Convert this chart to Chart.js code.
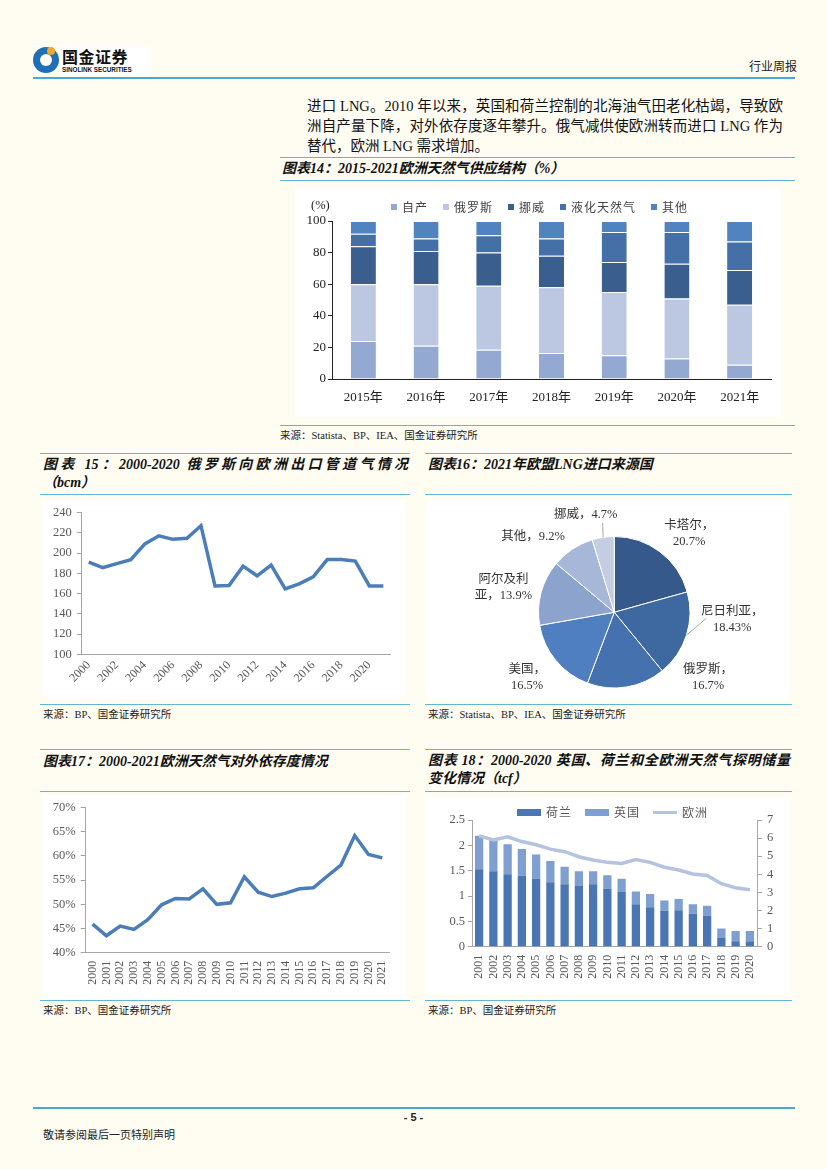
<!DOCTYPE html>
<html lang="zh-CN">
<head>
<meta charset="utf-8">
<title>行业周报 - 5</title>
<script src="https://cdn.jsdelivr.net/npm/chart.js@4.4.1/dist/chart.umd.min.js"></script>
<style>
  html, body { margin: 0; padding: 0; }
  body {
    width: 827px; height: 1169px; position: relative; overflow: hidden;
    background: #fffcf2; color: #222;
    font-family: 'Liberation Serif', 'Noto Sans CJK SC', serif;
  }
  .rule { position: absolute; height: 0; border-top: 1.5px solid #62b5d9; }
  .rule.thick { border-top: 2.5px solid #4aa8d4; }
  .title { position: absolute; font-weight: bold; font-style: italic; font-size: 14px; line-height: 17px; color: #111; white-space: nowrap; }
  .title.just { text-align: justify; text-align-last: justify; white-space: normal; }
  .src { position: absolute; font-size: 10.5px; line-height: 12px; color: #222; white-space: nowrap; }
  .box { position: absolute; background: #fff; }
  .box canvas { display: block; }
  .para { position: absolute; left: 307px; width: 476px; font-size: 14.5px; line-height: 20px; color: #111; white-space: nowrap; }
  .para.just { text-align: justify; text-align-last: justify; white-space: normal; }
  .legend { position: absolute; display: flex; align-items: center; font-size: 12px; letter-spacing: 1px; color: #444; white-space: nowrap; }
  .legend .item { display: flex; align-items: center; }
  .legend .sw { display: inline-block; margin-right: 5px; }
</style>
</head>
<body>

<!-- 页眉 -->
<div style="position:absolute;left:33px;top:47px;width:26px;height:26px;border-radius:50%;background:#1f6fb6;"></div>
<div style="position:absolute;left:40px;top:54px;width:12px;height:12px;border-radius:50%;background:#fffcf2;"></div>
<div style="position:absolute;left:47px;top:47px;width:8px;height:8px;border-radius:50%;background:#f0a830;"></div>
<div style="position:absolute;left:59px;top:46px;width:92px;height:30px;background:#fff;"></div>
<div style="position:absolute;left:62px;top:46px;font-family:'Noto Sans CJK SC';font-weight:bold;font-size:16px;line-height:20px;color:#111;letter-spacing:0.5px;">国金证券</div>
<div style="position:absolute;left:62px;top:66px;font-family:'Liberation Sans';font-weight:bold;font-size:6.3px;line-height:7px;color:#111;">SINOLINK SECURITIES</div>
<div style="position:absolute;left:749px;top:60px;font-size:12px;line-height:14px;color:#222;">行业周报</div>
<div class="rule thick" style="left:33px;top:77px;width:762px;"></div>

<!-- 正文 -->
<div class="para just" style="top:96px;">进口 LNG。2010 年以来，英国和荷兰控制的北海油气田老化枯竭，导致欧</div>
<div class="para just" style="top:116px;">洲自产量下降，对外依存度逐年攀升。俄气减供使欧洲转而进口 LNG 作为</div>
<div class="para" style="top:136px;">替代，欧洲 LNG 需求增加。</div>

<!-- 图表14 -->
<div class="rule" style="left:280px;top:157px;width:515px;"></div>
<div class="title" style="left:282px;top:160px;">图表14：2015-2021欧洲天然气供应结构（%）</div>
<div class="rule" style="left:280px;top:180px;width:515px;"></div>
<div class="box" style="left:295px;top:188px;width:485px;height:229px;"><canvas id="c14"></canvas></div>
<div style="position:absolute;left:311px;top:198px;font-size:12.5px;line-height:14px;color:#222;">(%)</div>
<div class="legend" id="lg14" style="left:391px;top:200px;height:14px;gap:15px;"></div>
<div class="rule" style="left:280px;top:425px;width:515px;"></div>
<div class="src" style="left:280px;top:430px;">来源：Statista、BP、IEA、国金证券研究所</div>

<!-- 图表15 -->
<div class="rule" style="left:40px;top:453px;width:370px;"></div>
<div class="title just" style="left:43px;top:456px;width:365px;">图表 15：2000-2020 俄罗斯向欧洲出口管道气情况</div>
<div class="title" style="left:43px;top:474px;">（bcm）</div>
<div class="rule" style="left:40px;top:494px;width:370px;"></div>
<div class="box" style="left:43px;top:500px;width:362px;height:198px;"><canvas id="c15"></canvas></div>
<div class="rule" style="left:40px;top:704px;width:370px;"></div>
<div class="src" style="left:43px;top:709px;">来源：BP、国金证券研究所</div>

<!-- 图表16 -->
<div class="rule" style="left:425px;top:453px;width:367px;"></div>
<div class="title" style="left:428px;top:456px;">图表16：2021年欧盟LNG进口来源国</div>
<div class="rule" style="left:425px;top:494px;width:367px;"></div>
<div class="box" style="left:428px;top:500px;width:362px;height:200px;"><canvas id="c16"></canvas></div>
<div class="rule" style="left:425px;top:704px;width:367px;"></div>
<div class="src" style="left:428px;top:709px;">来源：Statista、BP、IEA、国金证券研究所</div>

<!-- 图表17 -->
<div class="rule" style="left:40px;top:749px;width:370px;"></div>
<div class="title" style="left:43px;top:753px;">图表17：2000-2021欧洲天然气对外依存度情况</div>
<div class="rule" style="left:40px;top:791px;width:370px;"></div>
<div class="box" style="left:43px;top:795px;width:362px;height:203px;"><canvas id="c17"></canvas></div>
<div class="rule" style="left:40px;top:1000px;width:370px;"></div>
<div class="src" style="left:43px;top:1005px;">来源：BP、国金证券研究所</div>

<!-- 图表18 -->
<div class="rule" style="left:425px;top:749px;width:367px;"></div>
<div class="title just" style="left:428px;top:752px;width:362px;">图表 18：2000-2020 英国、荷兰和全欧洲天然气探明储量</div>
<div class="title" style="left:428px;top:770px;">变化情况（tcf）</div>
<div class="rule" style="left:425px;top:791px;width:367px;"></div>
<div class="box" style="left:425px;top:797px;width:365px;height:198px;"><canvas id="c18"></canvas></div>
<div class="legend" id="lg18" style="left:517px;top:805px;height:14px;gap:13px;color:#595959;"></div>
<div class="rule" style="left:425px;top:1000px;width:367px;"></div>
<div class="src" style="left:428px;top:1005px;">来源：BP、国金证券研究所</div>

<!-- 页脚 -->
<div class="rule thick" style="left:33px;top:1107px;width:762px;"></div>
<div style="position:absolute;left:0;width:827px;top:1111px;text-align:center;font-family:'Liberation Sans';font-weight:bold;font-size:11px;line-height:13px;">- 5 -</div>
<div style="position:absolute;left:43px;top:1128px;font-size:11px;line-height:14px;color:#222;">敬请参阅最后一页特别声明</div>

<script>
Chart.defaults.font.family = "'Liberation Serif', 'Noto Sans CJK SC', serif";
Chart.defaults.animation = false;
Chart.defaults.responsive = true;
Chart.defaults.maintainAspectRatio = false;
Chart.defaults.plugins.legend.display = false;
Chart.defaults.plugins.tooltip.enabled = false;

// 图表14：欧洲天然气供应结构（%）
const years14 = ['2015年', '2016年', '2017年', '2018年', '2019年', '2020年', '2021年'];
const ownProduction = [24, 21, 18.5, 16.5, 15, 13, 9];
const fromRussia = [36, 39, 40.5, 41.5, 40, 38, 38];
const fromNorway = [24, 21, 21, 20, 19, 22, 22];
const fromLng = [8, 8, 11, 11, 19, 20, 18];
const fromOthers = [8, 11, 9, 11, 7, 7, 13];

// 图表15：俄罗斯向欧洲出口管道气（bcm）
const years15 = ['2000', '2001', '2002', '2003', '2004', '2005', '2006', '2007', '2008', '2009', '2010',
  '2011', '2012', '2013', '2014', '2015', '2016', '2017', '2018', '2019', '2020', '2021'];
const pipelineExports = [191, 185.5, 189.5, 193.5, 209, 217, 213.5, 214.5, 227, 167.5, 168,
  187, 177.5, 188, 164.5, 169.5, 176.5, 193.5, 193.5, 192, 167.5, 167.5];

// 图表16：2021年欧盟LNG进口来源国（%）
const lngSources = ['卡塔尔', '尼日利亚', '俄罗斯', '美国', '阿尔及利亚', '其他', '挪威'];
const lngShares = [20.7, 18.43, 16.7, 16.5, 13.9, 9.2, 4.7];

// 图表17：欧洲天然气对外依存度（%）
const years17 = years15;
const importDependence = [45.9, 43.5, 45.5, 44.8, 46.8, 49.9, 51.2, 51.1, 53.2, 50, 50.3,
  55.7, 52.5, 51.6, 52.3, 53.2, 53.4, 55.8, 58.1, 64.2, 60.3, 59.6];

// 图表18：探明储量（tcf）
const years18 = ['2001', '2002', '2003', '2004', '2005', '2006', '2007', '2008', '2009', '2010',
  '2011', '2012', '2013', '2014', '2015', '2016', '2017', '2018', '2019', '2020'];
const reservesNL = [1.53, 1.49, 1.43, 1.40, 1.34, 1.27, 1.23, 1.20, 1.23, 1.15,
  1.08, 0.84, 0.78, 0.71, 0.72, 0.65, 0.61, 0.17, 0.11, 0.11];
const reservesUK = [0.66, 0.63, 0.59, 0.53, 0.48, 0.42, 0.35, 0.29, 0.26, 0.26,
  0.26, 0.25, 0.26, 0.20, 0.22, 0.19, 0.20, 0.19, 0.20, 0.20];
const reservesEurope = [6.12, 5.9, 6.07, 5.81, 5.63, 5.39, 5.25, 4.97, 4.79, 4.66,
  4.6, 4.81, 4.66, 4.39, 4.24, 4.02, 3.93, 3.48, 3.26, 3.15];

const grey = '#595959';
const axisGrey = '#a6a6a6';

function fixWidth(w) { return s => { s.width = w; }; }
function fixHeight(h) { return s => { s.height = h; }; }

function htmlLegend(el, items) {
  items.forEach(it => {
    const d = document.createElement('span');
    d.className = 'item';
    const sw = document.createElement('span');
    sw.className = 'sw';
    sw.style.width = it.w + 'px';
    sw.style.height = it.h + 'px';
    sw.style.background = it.color;
    d.appendChild(sw);
    d.appendChild(document.createTextNode(it.label));
    el.appendChild(d);
  });
}

// ---- 图表14
const ds14 = [
  { label: '自产', data: ownProduction, backgroundColor: '#93a9d2' },
  { label: '俄罗斯', data: fromRussia, backgroundColor: '#bcc8e2' },
  { label: '挪威', data: fromNorway, backgroundColor: '#3a5e8e' },
  { label: '液化天然气', data: fromLng, backgroundColor: '#4570a7' },
  { label: '其他', data: fromOthers, backgroundColor: '#5083c0' }
];
ds14.forEach(d => {
  d.borderColor = '#ffffff';
  d.borderWidth = { top: 1, left: 0, right: 0, bottom: 0 };
  d.borderSkipped = false;
  d.barPercentage = 0.4;
  d.categoryPercentage = 1;
});
new Chart(document.getElementById('c14'), {
  type: 'bar',
  data: { labels: years14, datasets: ds14 },
  options: {
    layout: { padding: { top: 33, right: 9, left: 0, bottom: 0 } },
    scales: {
      x: {
        stacked: true,
        grid: { display: false, drawTicks: false },
        border: { display: true, color: '#222', width: 1 },
        ticks: { color: '#222', font: { size: 13 }, padding: 11, maxRotation: 0 },
        afterFit: fixHeight(38)
      },
      y: {
        stacked: true, min: 0, max: 100,
        grid: { drawOnChartArea: false, tickLength: 4, color: '#222' },
        border: { color: '#222', width: 1 },
        ticks: { stepSize: 20, color: '#222', font: { size: 13 }, padding: 2 },
        afterFit: fixWidth(37)
      }
    }
  }
});
htmlLegend(document.getElementById('lg14'),
  ds14.map(d => ({ label: d.label, color: d.backgroundColor, w: 6, h: 6 })));

// ---- 图表15
new Chart(document.getElementById('c15'), {
  type: 'line',
  data: {
    labels: years15,
    datasets: [{ data: pipelineExports, borderColor: '#4a7dba', borderWidth: 3.5, pointRadius: 0, tension: 0 }]
  },
  options: {
    layout: { padding: { top: 11, right: 14.6, left: 0, bottom: 0 } },
    scales: {
      x: {
        offset: true,
        grid: { display: false, drawTicks: false },
        border: { display: true, color: axisGrey },
        ticks: {
          autoSkip: false, maxRotation: 45, minRotation: 45, color: grey, font: { size: 12 }, padding: 4,
          callback: function (v, i) { return i % 2 === 0 ? this.getLabelForValue(v) : ''; }
        },
        afterFit: fixHeight(43.7)
      },
      y: {
        min: 100, max: 240,
        grid: { drawOnChartArea: false, tickLength: 5, color: axisGrey },
        border: { color: axisGrey },
        ticks: { stepSize: 20, color: grey, font: { size: 12.5 }, padding: 5 },
        afterFit: fixWidth(38.7)
      }
    }
  }
});

// ---- 图表16
// 标签方位：自正上方顺时针的角度、与圆心距离（半径倍数）、首行字数；leader 为引线终点
const pieLabelPlacement = [
  { deg: 43.8, dist: 1.43, split: 4 },
  { deg: 93.4, dist: 1.56, split: 5, leader: { deg: 93.7, dist: 1.22 } },
  { deg: 124.9, dist: 1.51, split: 4 },
  { deg: 233, dist: 1.44, split: 3 },
  { deg: 282.7, dist: 1.50, split: 4 },
  { deg: 312.8, dist: 1.46, split: 0 },
  { deg: 343.7, dist: 1.34, split: 0, leader: { deg: 352.6, dist: 1.19 } }
];
const pieLabels = {
  id: 'pieLabels',
  afterDatasetsDraw(chart) {
    const ctx = chart.ctx;
    const arcs = chart.getDatasetMeta(0).data;
    ctx.save();
    ctx.font = "12.5px 'Liberation Serif', 'Noto Sans CJK SC', serif";
    ctx.fillStyle = '#333';
    ctx.textAlign = 'center';
    ctx.textBaseline = 'middle';
    arcs.forEach((arc, i) => {
      const p = arc.getProps(['x', 'y', 'outerRadius', 'startAngle', 'endAngle']);
      const pl = pieLabelPlacement[i];
      const at = (deg, dist) => {
        const a = (deg - 90) * Math.PI / 180;
        return [p.x + Math.cos(a) * dist * p.outerRadius, p.y + Math.sin(a) * dist * p.outerRadius];
      };
      const text = lngSources[i] + '，' + chart.data.datasets[0].data[i] + '%';
      const [lx, ly] = at(pl.deg, pl.dist);
      if (pl.split) {
        ctx.fillText(text.slice(0, pl.split), lx, ly - 8);
        ctx.fillText(text.slice(pl.split), lx, ly + 8);
      } else {
        ctx.fillText(text, lx, ly);
      }
      if (pl.leader) {
        const mid = (p.startAngle + p.endAngle) / 2;
        const ex = p.x + Math.cos(mid) * p.outerRadius, ey = p.y + Math.sin(mid) * p.outerRadius;
        const [tx, ty] = at(pl.leader.deg, pl.leader.dist);
        ctx.strokeStyle = '#a6a6a6';
        ctx.lineWidth = 1;
        ctx.beginPath();
        ctx.moveTo(ex, ey);
        ctx.lineTo(tx, ty);
        ctx.stroke();
      }
    });
    ctx.restore();
  }
};
new Chart(document.getElementById('c16'), {
  type: 'pie',
  data: {
    labels: lngSources,
    datasets: [{
      data: lngShares,
      backgroundColor: ['#34598a', '#3d68a0', '#4572ae', '#4f7fc0', '#8ba3cd', '#a7b7d7', '#c3cee3'],
      borderColor: '#ffffff', borderWidth: 1, hoverOffset: 0
    }]
  },
  options: { layout: { padding: { left: 110, right: 99.5, top: 36, bottom: 11.5 } } },
  plugins: [pieLabels]
});

// ---- 图表17
new Chart(document.getElementById('c17'), {
  type: 'line',
  data: {
    labels: years17,
    datasets: [{ data: importDependence, borderColor: '#4a7dba', borderWidth: 3.5, pointRadius: 0, tension: 0 }]
  },
  options: {
    layout: { padding: { top: 11, right: 13, left: 0, bottom: 0 } },
    scales: {
      x: {
        offset: true,
        grid: { display: false, drawTicks: false },
        border: { display: true, color: axisGrey },
        ticks: { autoSkip: false, maxRotation: 90, minRotation: 90, color: grey, font: { size: 12 }, padding: 8 },
        afterFit: fixHeight(45.3)
      },
      y: {
        min: 40, max: 70,
        grid: { drawOnChartArea: false, tickLength: 5, color: axisGrey },
        border: { color: axisGrey },
        ticks: { stepSize: 5, color: grey, font: { size: 12.5 }, padding: 5, callback: v => v + '%' },
        afterFit: fixWidth(42.7)
      }
    }
  }
});

// ---- 图表18
const ds18 = [
  { type: 'line', label: '欧洲', data: reservesEurope, yAxisID: 'y1', borderColor: '#b4c3e0', borderWidth: 3.5, pointRadius: 0, tension: 0, order: 0 },
  { type: 'bar', label: '荷兰', data: reservesNL, backgroundColor: '#4a76b4', yAxisID: 'y', barPercentage: 0.58, categoryPercentage: 1, order: 1 },
  { type: 'bar', label: '英国', data: reservesUK, backgroundColor: '#7f9fd0', yAxisID: 'y', barPercentage: 0.58, categoryPercentage: 1, order: 1 }
];
new Chart(document.getElementById('c18'), {
  type: 'bar',
  data: { labels: years18, datasets: ds18 },
  options: {
    layout: { padding: { top: 23, right: 0, left: 0, bottom: 0 } },
    scales: {
      x: {
        stacked: true,
        grid: { display: false, drawTicks: false },
        border: { display: true, color: axisGrey },
        ticks: { autoSkip: false, maxRotation: 90, minRotation: 90, color: grey, font: { size: 12 }, padding: 8 },
        afterFit: fixHeight(48.3)
      },
      y: {
        stacked: true, min: 0, max: 2.5,
        grid: { drawOnChartArea: false, tickLength: 4, color: axisGrey },
        border: { color: axisGrey },
        ticks: { stepSize: 0.5, color: grey, font: { size: 12.5 }, padding: 3, callback: v => String(v) },
        afterFit: fixWidth(47)
      },
      y1: {
        position: 'right', min: 0, max: 7,
        grid: { drawOnChartArea: false, tickLength: 5, color: axisGrey },
        border: { color: axisGrey },
        ticks: { stepSize: 1, color: grey, font: { size: 12.5 }, padding: 5 },
        afterFit: fixWidth(33)
      }
    }
  }
});
htmlLegend(document.getElementById('lg18'), [
  { label: ds18[1].label, color: ds18[1].backgroundColor, w: 24, h: 7 },
  { label: ds18[2].label, color: ds18[2].backgroundColor, w: 24, h: 7 },
  { label: ds18[0].label, color: ds18[0].borderColor, w: 24, h: 3 }
]);
</script>
</body>
</html>
